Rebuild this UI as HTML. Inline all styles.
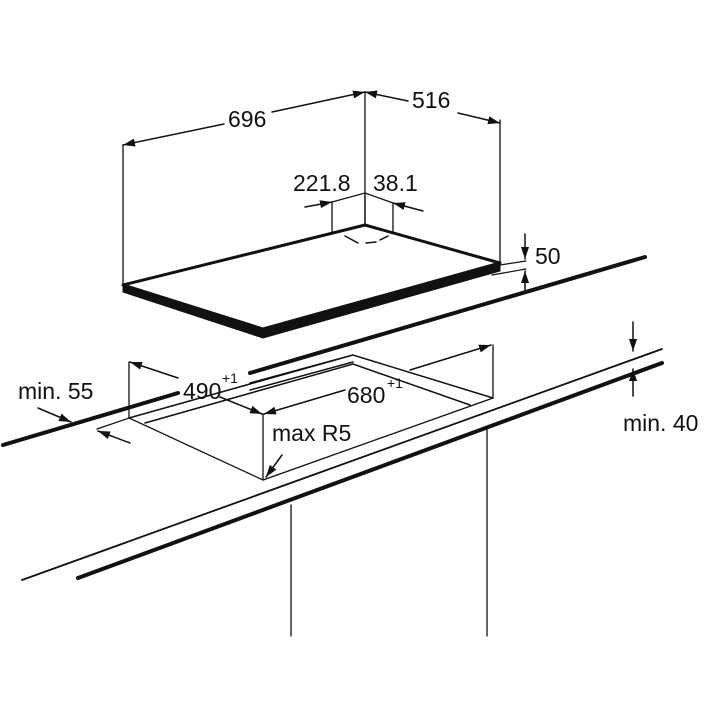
<!DOCTYPE html>
<html><head><meta charset="utf-8"><style>
html,body{margin:0;padding:0;background:#fff;}
svg{display:block}
text{font-family:"Liberation Sans",Arial,sans-serif;font-size:23px;fill:#111}
</style></head><body>
<svg width="720" height="720" viewBox="0 0 720 720" xmlns="http://www.w3.org/2000/svg">
<defs>
<marker id="a" viewBox="0 0 12 8" refX="12" refY="4" markerWidth="12" markerHeight="8" markerUnits="userSpaceOnUse" orient="auto"><path d="M0,0L12,4L0,8z" fill="#111"/></marker>
</defs>
<g stroke="#111" fill="none" stroke-linecap="round">
<polygon points="123,285 263,330 500,263 500,271 263,338 123,292" fill="#111" stroke-width="1"/>
<polygon points="123,285 365,225 500,263 263,329" fill="#fff" stroke-width="3" stroke-linejoin="round"/>
<path d="M345,236 L358,243 M366,243 L376,242 M380,240 L388,236" stroke-width="1.5"/>
<path d="M123,285V145 M365,225V92 M500,263V120 M332,232V202 L365,193 L393,203 V232" stroke-width="1.3"/>
<path d="M365,193V225" stroke-width="1.3"/>
<path d="M224,124L123,145" stroke-width="1.5" marker-end="url(#a)"/>
<path d="M272,112L365,92" stroke-width="1.5" marker-end="url(#a)"/>
<path d="M408,101L365,92" stroke-width="1.5" marker-end="url(#a)"/>
<path d="M458,113L500,123" stroke-width="1.5" marker-end="url(#a)"/>
<path d="M305,207L332,202" stroke-width="1.5" marker-end="url(#a)"/>
<path d="M423,211L393,203" stroke-width="1.5" marker-end="url(#a)"/>
<path d="M500,265L526,261 M492,275L526,269" stroke-width="1.2"/>
<path d="M525,234V259" stroke-width="1.5" marker-end="url(#a)"/>
<path d="M525,290V271" stroke-width="1.5" marker-end="url(#a)"/>
<path d="M3,445L178,393 M250,373L645,257" stroke-width="4"/>
<path d="M129,362V418 L263,480 L493,398 V345 M263,480V414" stroke-width="1.3"/>
<path d="M129,418L353,355 L493,398 M145,423L353,364 L470,405 M250,383L353,355 M250,390L353,362" stroke-width="1.5"/>
<path d="M97,429L129,418" stroke-width="1.2"/>
<path d="M178,378L130,362" stroke-width="1.5" marker-end="url(#a)"/>
<path d="M220,397L262,414" stroke-width="1.5" marker-end="url(#a)"/>
<path d="M345,390L264,414" stroke-width="1.5" marker-end="url(#a)"/>
<path d="M410,370L491,345" stroke-width="1.5" marker-end="url(#a)"/>
<path d="M282,455L266,477" stroke-width="1.5" marker-end="url(#a)"/>
<path d="M38,408L71,422" stroke-width="1.5" marker-end="url(#a)"/>
<path d="M130,443L98,431" stroke-width="1.5" marker-end="url(#a)"/>
<path d="M22,580L662,349" stroke-width="1.8"/>
<path d="M78,578L662,363" stroke-width="4"/>
<path d="M291,505V636 M487,430V636" stroke-width="1.3"/>
<path d="M633,322V351" stroke-width="1.5" marker-end="url(#a)"/>
<path d="M633,396V369" stroke-width="1.5" marker-end="url(#a)"/>
</g>
<text x="228" y="127">696</text>
<text x="412" y="108">516</text>
<text x="293" y="191">221.8</text>
<text x="373" y="191">38.1</text>
<text x="535" y="264">50</text>
<text x="18" y="399">min. 55</text>
<text x="183" y="399">490</text><text x="222" y="383" style="font-size:14px">+1</text>
<text x="347" y="403">680</text><text x="387" y="388" style="font-size:14px">+1</text>
<text x="272" y="441">max R5</text>
<text x="623" y="431">min. 40</text>
</svg>
</body></html>
